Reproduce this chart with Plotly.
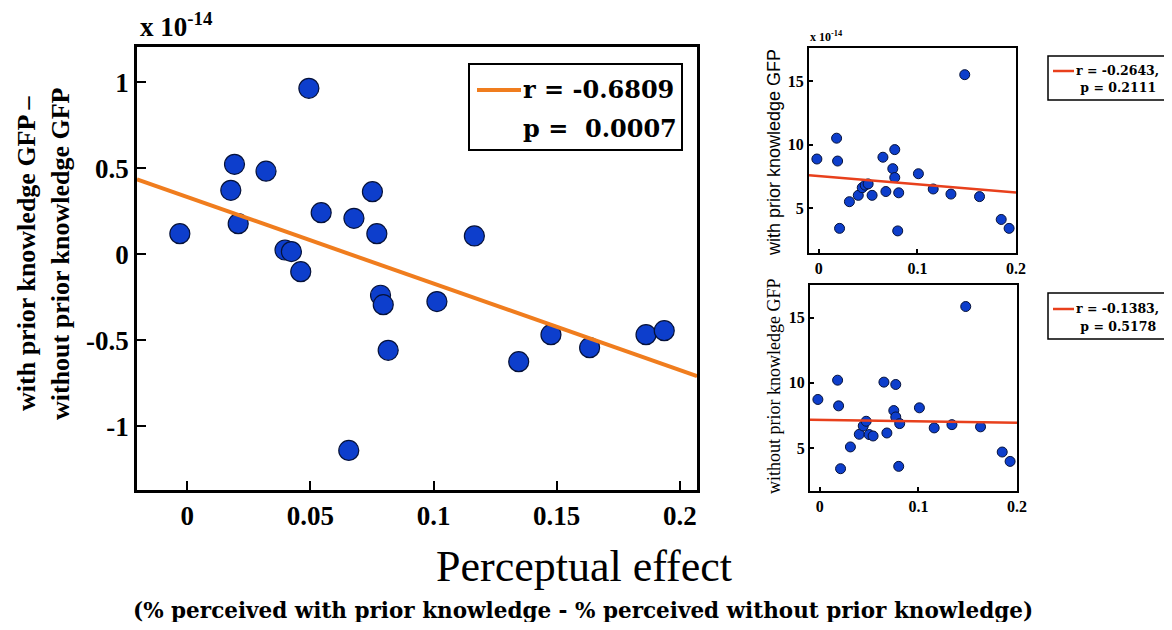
import plotly.graph_objects as go

# ---------------- data ----------------
main_x = [-0.003, 0.0177, 0.0192, 0.0207, 0.032, 0.0397, 0.0423, 0.0461, 0.0494, 0.0544,
          0.0656, 0.0677, 0.0752, 0.077, 0.0785, 0.0796, 0.0816, 0.1014, 0.1166, 0.1346,
          0.1477, 0.1634, 0.1863, 0.1937]
main_y = [0.12, 0.372, 0.523, 0.178, 0.483, 0.025, 0.016, -0.101, 0.965, 0.242,
          -1.14, 0.209, 0.364, 0.12, -0.238, -0.293, -0.558, -0.275, 0.107, -0.624,
          -0.467, -0.543, -0.467, -0.444]
main_fit = {"intercept": 0.333, "slope": -5.03}
main_stats = ["r = -0.6809", "p =  0.0007"]

small_x = [-0.002, 0.018, 0.019, 0.021, 0.031, 0.040, 0.044, 0.047, 0.050, 0.054,
           0.065, 0.068, 0.075, 0.077, 0.077, 0.080, 0.081, 0.101, 0.116, 0.134,
           0.148, 0.163, 0.185, 0.193]
with_y = [8.86, 10.5, 8.7, 3.4, 5.5, 6.0, 6.6, 6.8, 6.9, 6.0,
          9.0, 6.3, 8.1, 9.6, 7.4, 3.2, 6.2, 7.7, 6.5, 6.1,
          15.5, 5.9, 4.1, 3.4]
without_y = [8.72, 10.2, 8.23, 3.41, 5.08, 6.05, 6.69, 7.05, 6.03, 5.92,
             10.05, 6.15, 7.87, 9.87, 7.38, 3.59, 6.87, 8.08, 6.54, 6.79,
             15.85, 6.62, 4.69, 3.97]
with_fit = {"intercept": 7.52, "slope": -6.5}
without_fit = {"intercept": 7.16, "slope": -1.1}
with_stats = ["r = -0.2643,", "p = 0.2111"]
without_stats = ["r = -0.1383,", "p = 0.5178"]

main_xticks = [0, 0.05, 0.1, 0.15, 0.2]
main_xticklabels = ["0", "0.05", "0.1", "0.15", "0.2"]
main_yticks = [-1, -0.5, 0, 0.5, 1]
main_yticklabels = ["-1", "-0.5", "0", "0.5", "1"]
small_xticks = [0, 0.1, 0.2]
small_xticklabels = ["0", "0.1", "0.2"]
small_yticks = [5, 10, 15]
small_yticklabels = ["5", "10", "15"]

main_xrange = [-0.0204, 0.207]
main_yrange = [-1.37, 1.205]
small_xrange = [-0.01, 0.2]
top_yrange = [1.46, 17.6]
bot_yrange = [1.7, 17.5]

# ---------------- style ----------------
# the page body has an 8px margin: the figure starts at (8, 8); sized so the page never scrolls
OFF = 8
W, H = 1172 - OFF, 630 - 2 * OFF
SERIF = "Liberation Serif"
WIDE = "DejaVu Serif"
DOT = "#0d3ecc"
DOT_EDGE = "#06123a"
ORANGE = "#f07d1e"
RED = "#e8401c"


def px(x):
    return (x - OFF) / W


def py(y):
    return (H - (y - OFF)) / H


def fit_line(fit, xr):
    return xr, [fit["intercept"] + fit["slope"] * v for v in xr]


fig = go.Figure()

fig.add_trace(go.Scatter(x=main_x, y=main_y, mode="markers", xaxis="x", yaxis="y",
                         marker=dict(size=20, color=DOT, line=dict(color=DOT_EDGE, width=1.2)),
                         showlegend=False))
fx, fy = fit_line(main_fit, main_xrange)
fig.add_trace(go.Scatter(x=fx, y=fy, mode="lines", xaxis="x", yaxis="y",
                         line=dict(color=ORANGE, width=4), showlegend=False))

fig.add_trace(go.Scatter(x=small_x, y=with_y, mode="markers", xaxis="x2", yaxis="y2",
                         marker=dict(size=10, color=DOT, line=dict(color=DOT_EDGE, width=1)),
                         showlegend=False))
fx, fy = fit_line(with_fit, small_xrange)
fig.add_trace(go.Scatter(x=fx, y=fy, mode="lines", xaxis="x2", yaxis="y2",
                         line=dict(color=RED, width=2.5), showlegend=False))

fig.add_trace(go.Scatter(x=small_x, y=without_y, mode="markers", xaxis="x3", yaxis="y3",
                         marker=dict(size=10, color=DOT, line=dict(color=DOT_EDGE, width=1)),
                         showlegend=False))
fx, fy = fit_line(without_fit, small_xrange)
fig.add_trace(go.Scatter(x=fx, y=fy, mode="lines", xaxis="x3", yaxis="y3",
                         line=dict(color=RED, width=2.5), showlegend=False))


def ax(domain, rng, tv, tt, anchor, size, lw, ticklen):
    return dict(domain=domain, range=rng, tickvals=tv, ticktext=tt, anchor=anchor,
                showgrid=False, zeroline=False, showline=True, linecolor="black",
                linewidth=lw, mirror=True, ticks="inside", ticklen=ticklen,
                tickwidth=lw * 0.8, tickcolor="black", automargin=False,
                tickfont=dict(family=SERIF, size=size, color="black", weight="bold"))


fig.update_layout(
    width=W, height=H, margin=dict(l=0, r=0, t=0, b=0, autoexpand=False),
    paper_bgcolor="white", plot_bgcolor="white", showlegend=False,
    xaxis=ax([px(137), px(697)], main_xrange, main_xticks, main_xticklabels, "y", 27, 2.5, 9),
    yaxis=ax([py(490), py(47)], main_yrange, main_yticks, main_yticklabels, "x", 27, 2.5, 9),
    xaxis2=ax([px(809), px(1016)], small_xrange, small_xticks, small_xticklabels, "y2", 16, 2, 4),
    yaxis2=ax([py(253), py(48)], top_yrange, small_yticks, small_yticklabels, "x2", 16, 2, 4),
    xaxis3=ax([px(810), px(1017)], small_xrange, small_xticks, small_xticklabels, "y3", 16, 2, 4),
    yaxis3=ax([py(491), py(285)], bot_yrange, small_yticks, small_yticklabels, "x3", 16, 2, 4),
)

shapes = []
annotations = []


def legend_box(x0, y0, x1, y1, bw, lx0, lx1, ly, lcolor, lwidth, tx, rows, tsize):
    shapes.append(dict(type="rect", xref="paper", yref="paper", x0=px(x0), x1=px(x1),
                       y0=py(y1), y1=py(y0), line=dict(color="black", width=bw),
                       fillcolor="white", layer="above"))
    shapes.append(dict(type="line", xref="paper", yref="paper", x0=px(lx0), x1=px(lx1),
                       y0=py(ly), y1=py(ly), line=dict(color=lcolor, width=lwidth),
                       layer="above"))
    for (txt, ty) in rows:
        annotations.append(dict(text=txt, x=px(tx), y=py(ty), xanchor="left",
                                yanchor="middle",
                                font=dict(family=WIDE, size=tsize, color="black",
                                          weight="bold")))


legend_box(469, 64, 682, 150, 2, 477, 521, 90, ORANGE, 4, 521,
           [(main_stats[0], 90), (main_stats[1], 129)], 24)
legend_box(1048, 56, 1167, 100, 1.5, 1053, 1074, 71, RED, 2.5, 1074,
           [(with_stats[0], 70), (" " + with_stats[1], 88)], 12.5)
legend_box(1048, 293, 1167, 339, 1.5, 1053, 1074, 309, RED, 2.5, 1074,
           [(without_stats[0], 308), (" " + without_stats[1], 326)], 12.5)

annotations += [
    dict(text="x 10<sup>-14</sup>", x=px(138), y=py(44), xanchor="left", yanchor="bottom",
         font=dict(family=SERIF, size=27, color="black", weight="bold")),
    dict(text="x 10<sup>-14</sup>", x=px(808), y=py(46), xanchor="left", yanchor="bottom",
         font=dict(family=SERIF, size=12, color="black", weight="bold")),
    dict(text="with prior knowledge GFP –<br>without prior knowledge GFP", textangle=-90,
         x=px(44), y=py(254), xanchor="center", yanchor="middle",
         font=dict(family=SERIF, size=26, color="black", weight="bold")),
    dict(text="with prior knowledge GFP", textangle=-90,
         x=px(774), y=py(153), xanchor="center", yanchor="middle",
         font=dict(family="Liberation Sans", size=18, color="black")),
    dict(text="without prior knowledge GFP", textangle=-90,
         x=px(774), y=py(386), xanchor="center", yanchor="middle",
         font=dict(family=SERIF, size=18, color="black")),
    dict(text="Perceptual effect", x=px(584), y=py(566), xanchor="center", yanchor="middle",
         font=dict(family=SERIF, size=44, color="black")),
    dict(text="(% perceived with prior knowledge - % perceived without prior knowledge)",
         x=px(583), y=py(610), xanchor="center", yanchor="middle",
         font=dict(family=WIDE, size=21.5, color="black", weight="bold")),
]
for a in annotations:
    a.update(xref="paper", yref="paper", showarrow=False)
fig.update_layout(annotations=annotations, shapes=shapes)

fig.write_html("out.html")
